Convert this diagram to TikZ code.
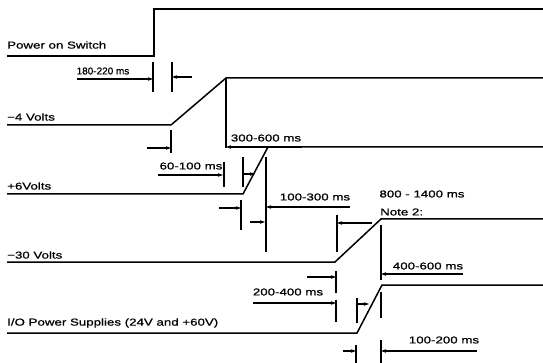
\documentclass[tikz,border=0pt]{standalone}
\usepackage{fontspec}
\setmainfont[FakeStretch=1.33,FakeBold=0.8]{Liberation Sans}
\usetikzlibrary{arrows.meta}
\begin{document}
\begin{tikzpicture}[x=1pt,y=-1pt,
  wave/.style={line width=1.5pt, line join=miter},
  dim/.style={line width=1.3pt},
  arr/.style={line width=1.2pt,-{Stealth[length=5pt,width=3.5pt]}},
  lbl/.style={inner sep=0pt, font=\fontsize{10}{12}\selectfont},
  sig/.style={lbl, anchor=west},
]
\useasboundingbox (0,0) rectangle (543,363);

% waveform corner points
\coordinate (p0) at (7,56);   \coordinate (p1) at (154,56);  \coordinate (p2) at (154,9);   \coordinate (p3) at (543,9);
\coordinate (a0) at (7,125);  \coordinate (a1) at (171,125); \coordinate (a2) at (226,78);  \coordinate (a3) at (543,78);
\coordinate (b0) at (7,194);  \coordinate (b1) at (243,194); \coordinate (b2) at (268,147); \coordinate (b3) at (543,147);
\coordinate (c0) at (7,262);  \coordinate (c1) at (335,262); \coordinate (c2) at (381,219); \coordinate (c3) at (543,219);
\coordinate (d0) at (7,333);  \coordinate (d1) at (357,333); \coordinate (d2) at (382,285); \coordinate (d3) at (543,285);

\draw[wave] (p0) -- (p1) -- (p2) -- (p3);
\draw[wave] (a0) -- (a1) -- (a2) -- (a3);
\draw[wave] (b0) -- (b1) -- (b2) -- (b3);
\draw[wave] (c0) -- (c1) -- (c2) -- (c3);
\draw[wave] (d0) -- (d1) -- (d2) -- (d3);

% signal names
\node[sig] (nPow) at (7,45) {Power on Switch};
\node[sig] (nM4) at (7,117) {−4 Volts};
\node[sig] (nP6) at (7,186) {+6Volts};
\node[sig] (nM30) at (7,255) {−30 Volts};
\node[sig] (nIO) at (7,323) {I/O Power Supplies (24V and +60V)};

% dimension labels
\node[lbl] (t1) at (103,71) {\scalebox{0.75}[1]{180-220 ms}};
\node[lbl] (t2) at (266,138) {300-600 ms};
\node[lbl] (t3) at (191,166) {60-100 ms};
\node[lbl] (t4) at (315,197) {100-300 ms};
\node[lbl] (t5) at (422,194) {800 - 1400 ms};
\node[lbl, anchor=west] (t6) at (380,212) {Note 2:};
\node[lbl] (t7) at (428,266) {400-600 ms};
\node[lbl] (t8) at (288,292) {200-400 ms};
\node[lbl] (t9) at (444,340) {100-200 ms};

% 180-220
\draw[arr] (77,79) -- (153,79);
\draw[dim] (153,62) -- (153,92);
\draw[dim] (172,62) -- (172,92);
\draw[arr] (192,77) -- (172,77);

% 300-600
\draw[dim] (a2) -- (226,148);
\draw[arr] (302,147) -- (226,147);

% 60-100
\draw[dim] (171,130) -- (171,153);
\draw[arr] (147,148) -- (171,148);
\draw[arr] (158,175) -- (223,175);
\draw[dim] (224,162) -- (224,187);
\draw[dim] (243,157) -- (243,187);
\draw[arr] (243,174) -- (255,174);

% 100-300
\draw[arr] (219,208) -- (241,208);
\draw[dim] (241,200) -- (241,230);
\draw[dim] (266,157) -- (266,252);
\draw[arr] (250,222) -- (265,222);
\draw[arr] (350,207) -- (266,207);

% 800-1400
\draw[dim] (337,215) -- (337,252);
\draw[arr] (372,223) -- (337,223);

% 400-600
\draw[dim] (381,225) -- (381,280);
\draw[arr] (463,274) -- (381,274);

% 200-400
\draw[dim] (336,271) -- (336,293);
\draw[arr] (307,277) -- (336,277);
\draw[arr] (253,303) -- (336,303);
\draw[dim] (336,300) -- (336,322);
\draw[dim] (357,298) -- (357,323);
\draw[arr] (357,304) -- (369,304);
\draw[dim] (381,292) -- (381,318);

% 100-200
\draw[dim] (356,345) -- (356,363);
\draw[arr] (343,351) -- (356,351);
\draw[dim] (381,340) -- (381,363);
\draw[arr] (477,351) -- (381,351);
\end{tikzpicture}
\end{document}
